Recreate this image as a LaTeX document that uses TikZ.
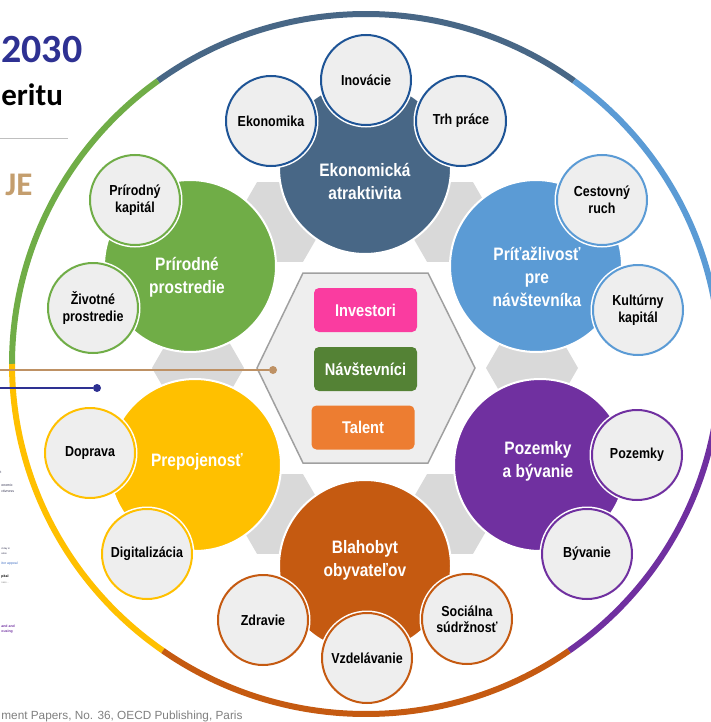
\documentclass[tikz,border=0pt]{standalone}
\usepackage{fontspec}
\setmainfont{Liberation Sans}
\newfontfamily\narrowfont{Liberation Sans}[FakeStretch=0.86]
\newfontfamily\titlefont{Carlito}
\usetikzlibrary{shapes.geometric}

\definecolor{econcol}{RGB}{72,103,134}
\definecolor{econedge}{RGB}{30,84,150}
\definecolor{visitcol}{RGB}{91,155,213}
\definecolor{naturecol}{RGB}{112,173,71}
\definecolor{connectcol}{RGB}{255,192,0}
\definecolor{housingcol}{RGB}{112,48,160}
\definecolor{wellcol}{RGB}{197,90,17}
\definecolor{satfill}{RGB}{238,238,238}
\definecolor{hexgray}{RGB}{217,217,217}
\definecolor{hexedge}{RGB}{160,160,160}
\definecolor{investcol}{RGB}{250,60,160}
\definecolor{visitorcol}{RGB}{84,130,53}
\definecolor{talentcol}{RGB}{237,125,49}
\definecolor{navy}{RGB}{46,49,146}
\definecolor{tancol}{RGB}{190,145,100}
\definecolor{ujetan}{RGB}{196,158,110}
\definecolor{rulegray}{RGB}{191,191,191}
\definecolor{footgray}{RGB}{127,127,127}
\definecolor{fragdark}{RGB}{50,50,80}
\definecolor{fragblue}{RGB}{68,114,196}

\tikzset{every picture/.style={line width=0.75pt}}
\tikzset{
	ringline/.style={line width=6pt},
	minihex/.style={regular polygon, regular polygon sides=6, minimum size=92pt, inner sep=0pt, fill=hexgray},
	maincirc/.style={circle, minimum size=172pt, inner sep=0pt, draw=white, line width=2pt},
	maintext/.style={text=white, align=center, font={\narrowfont\bfseries\fontsize{18}{23}\selectfont}},
	satcirc/.style={circle, minimum size=90pt, inner sep=0pt, fill=satfill, line width=2pt, align=center, font={\narrowfont\bfseries\fontsize{14.5}{16.5}\selectfont}, preaction={draw=white, line width=5pt}},
	groupbox/.style={rounded corners=5pt, minimum width=103pt, minimum height=44pt, inner sep=0pt, text=white, font={\narrowfont\bfseries\fontsize{17}{20}\selectfont}},
	pin/.style={circle, inner sep=0pt, minimum size=8pt},
	headline/.style={anchor=base west, inner sep=0pt},
	tinytext/.style={anchor=west, inner sep=0pt, font={\fontsize{3.5}{4}\selectfont}}
}

\begin{document}
\begin{tikzpicture}[x=1pt,y=1pt,yscale=-1]
	\useasboundingbox (0,0) rectangle (711,722);
	\coordinate (rc) at (366,364);
	\draw[ringline, econcol] (rc) ++(-54:354 and 350) arc[start angle=-54, end angle=-126, x radius=354, y radius=350];
	\draw[ringline, naturecol] (rc) ++(-126:354 and 350) arc[start angle=-126, end angle=-180, x radius=354, y radius=350];
	\draw[ringline, connectcol] (rc) ++(-180:354 and 350) arc[start angle=-180, end angle=-235, x radius=354, y radius=350];
	\draw[ringline, wellcol] (rc) ++(-235:354 and 350) arc[start angle=-235, end angle=-305, x radius=354, y radius=350];
	\draw[ringline, housingcol] (rc) ++(-305:354 and 350) arc[start angle=-305, end angle=-360, x radius=354, y radius=350];
	\draw[ringline, visitcol] (rc) ++(0:354 and 350) arc[start angle=0, end angle=-54, x radius=354, y radius=350];

	\node[headline, text=navy, font={\titlefont\bfseries\fontsize{40}{40}\selectfont}] (year) at (1,63) {2030};
	\node[headline, font={\titlefont\bfseries\fontsize{31}{31}\selectfont}] (subtitle) at (1,106) {eritu};
	\draw[rulegray, line width=1pt] (0,139) -- (68,139);
	\node[headline, text=ujetan, font={\titlefont\bfseries\fontsize{33}{33}\selectfont}] (section) at (5,195) {JE};

	\node[tinytext, text=fragdark] (frag1) at (0,472) {t};
	\node[tinytext, text=fragdark] (frag2) at (1,485) {onomic};
	\node[tinytext, text=fragdark] (frag3) at (1,491) {ctivness};
	\node[tinytext, text=fragdark, font={\fontsize{2.5}{3}\selectfont}] (frag4) at (1,549) {d day in};
	\node[tinytext, text=fragdark, font={\fontsize{2.5}{3}\selectfont}] (frag5) at (1,554) {ation};
	\node[tinytext, text=fragblue] (frag6) at (1,564) {itor appeal};
	\node[tinytext, font={\bfseries\fontsize{3.5}{4}\selectfont}] (frag7) at (1,577) {pital};
	\node[tinytext, text=footgray, font={\fontsize{2.5}{3}\selectfont}] (frag8) at (1,583) {ness...};
	\node[tinytext, text=housingcol, font={\bfseries\fontsize{3.5}{4}\selectfont}] (frag9) at (1,626) {and and};
	\node[tinytext, text=housingcol, font={\bfseries\fontsize{3.5}{4}\selectfont}] (frag10) at (1,632) {ousing};
	\node[headline, text=footgray, font={\fontsize{11.8}{12}\selectfont}] (source) at (1,719) {ment Papers, No. 36, OECD Publishing, Paris};

	\node[minihex] (hexnw) at (280,222) {};
	\node[minihex] (hexne) at (450,222) {};
	\node[minihex] (hexw) at (198,368) {};
	\node[minihex] (hexe) at (532,368) {};
	\node[minihex] (hexsw) at (280,514) {};
	\node[minihex] (hexse) at (450,514) {};
	\draw[fill=satfill, draw=hexedge, line width=1.5pt] (257,368) -- (303,273) -- (428,273) -- (475,368) -- (428,463) -- (303,463) -- cycle;

	\node[maincirc, fill=econcol] (econ) at (365,168) {};
	\node[maincirc, fill=visitcol] (visit) at (536,266) {};
	\node[maincirc, fill=naturecol] (nature) at (190,266) {};
	\node[maincirc, fill=connectcol] (connect) at (195,465) {};
	\node[maincirc, fill=housingcol] (housing) at (540,465) {};
	\node[maincirc, fill=wellcol] (well) at (365,566) {};
	\node[maintext] (econtxt) at (365,181) {Ekonomická\\atraktivita};
	\node[maintext] (visittxt) at (537,277) {Príťažlivosť\\pre\\návštevníka};
	\node[maintext] (naturetxt) at (187,277) {Prírodné\\prostredie};
	\node[maintext] (connecttxt) at (197,462) {Prepojenosť};
	\node[maintext] (housingtxt) at (538,461) {Pozemky\\a bývanie};
	\node[maintext] (welltxt) at (365,560) {Blahobyt\\obyvateľov};

	\node[satcirc, draw=econedge] (ekonomika) at (271,121) {Ekonomika};
	\node[satcirc, draw=econedge] (inovacie) at (366,80) {Inovácie};
	\node[satcirc, draw=econedge] (trh) at (461,121) {Trh práce};
	\node[satcirc, draw=visitcol] (cestovny) at (602,200) {Cestovný\\ruch};
	\node[satcirc, draw=visitcol] (kulturny) at (638,310) {Kultúrny\\kapitál};
	\node[satcirc, draw=housingcol] (pozemky) at (637,455) {Pozemky};
	\node[satcirc, draw=housingcol] (byvanie) at (587,554) {Bývanie};
	\node[satcirc, draw=wellcol] (socialna) at (467,619) {Sociálna\\súdržnosť};
	\node[satcirc, draw=wellcol] (vzdelavanie) at (367,658) {Vzdelávanie};
	\node[satcirc, draw=wellcol] (zdravie) at (263,620) {Zdravie};
	\node[satcirc, draw=connectcol] (digital) at (147,554) {Digitalizácia};
	\node[satcirc, draw=connectcol] (doprava) at (90,453) {Doprava};
	\node[satcirc, draw=naturecol] (zivotne) at (93,308) {Životné\\prostredie};
	\node[satcirc, draw=naturecol] (prirodny) at (135,200) {Prírodný\\kapitál};

	\coordinate (tanstart) at (0,370);
	\node[pin, fill=tancol] (tandot) at (273,370) {};
	\draw[tancol, line width=1.8pt] (tanstart) -- (tandot);
	\coordinate (navystart) at (0,388);
	\node[pin, fill=navy] (navydot) at (97,388) {};
	\draw[navy, line width=1.5pt] (navystart) -- (navydot);

	\node[groupbox, fill=investcol] (investori) at (365.5,310) {Investori};
	\node[groupbox, fill=visitorcol] (navstevnici) at (365.5,369) {Návštevníci};
	\node[groupbox, fill=talentcol] (talent) at (363,427.5) {Talent};
\end{tikzpicture}
\end{document}
